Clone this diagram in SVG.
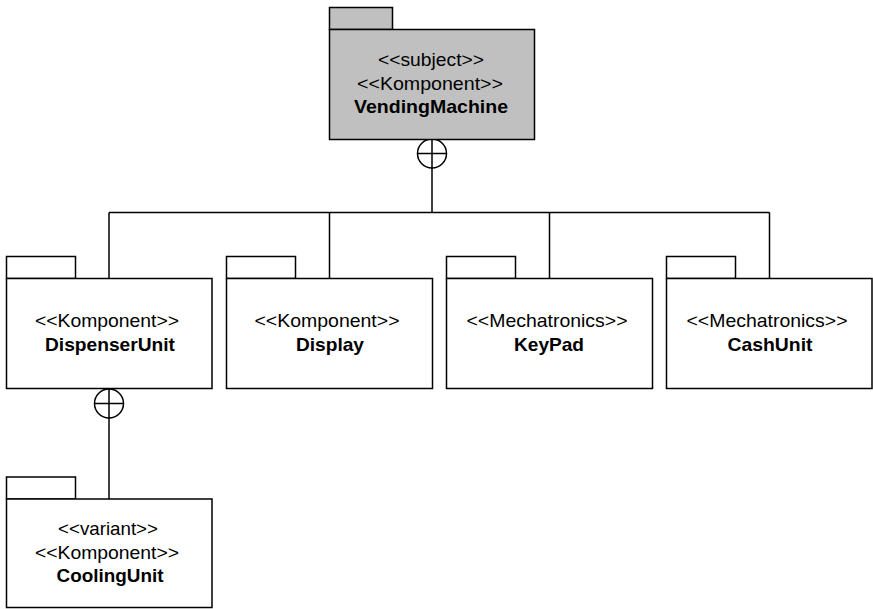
<svg xmlns="http://www.w3.org/2000/svg" width="873" height="609" viewBox="0 0 873 609">
  <style>
    .pkg { fill: #ffffff; stroke: #000000; stroke-width: 1.5; }
    .subj { fill: #c0c0c0; }
    .conn { fill: none; stroke: #000000; stroke-width: 1.5; }
    .nest { fill: #ffffff; stroke: #000000; stroke-width: 1.5; }
    text { font-family: "Liberation Sans", Arial, sans-serif; font-size: 18.5px; fill: #000000; text-anchor: middle; }
    .name { font-weight: bold; }
  </style>

  <!-- containment connectors -->
  <g id="connectors">
    <path class="conn" d="M432 168 V212.5 M109 212.5 H769.5 M109 212.5 V278.5 M329.5 212.5 V278.5 M549.5 212.5 V278.5 M769.5 212.5 V278.5"/>
    <circle class="nest" cx="432" cy="153.5" r="14.5"/>
    <path class="conn" d="M417.5 153.5 H446.5 M432 139 V168"/>
    <path class="conn" d="M109 418 V499"/>
    <circle class="nest" cx="109" cy="403.5" r="14.5"/>
    <path class="conn" d="M94.5 403.5 H123.5 M109 389 V418"/>
  </g>

  <g id="VendingMachine">
    <rect class="pkg subj" x="329.5" y="7.5" width="63" height="22"/>
    <rect class="pkg subj" x="329.5" y="29.5" width="205" height="110"/>
    <text x="431" y="66" textLength="106" lengthAdjust="spacingAndGlyphs">&lt;&lt;subject&gt;&gt;</text>
    <text x="430" y="90" textLength="146" lengthAdjust="spacingAndGlyphs">&lt;&lt;Komponent&gt;&gt;</text>
    <text class="name" x="431" y="113" textLength="154" lengthAdjust="spacingAndGlyphs">VendingMachine</text>
  </g>

  <g id="DispenserUnit">
    <rect class="pkg" x="6.5" y="256.5" width="69" height="22"/>
    <rect class="pkg" x="6.5" y="278.5" width="205.5" height="110"/>
    <text x="107" y="327" textLength="144" lengthAdjust="spacingAndGlyphs">&lt;&lt;Komponent&gt;&gt;</text>
    <text class="name" x="110" y="350.5" textLength="130" lengthAdjust="spacingAndGlyphs">DispenserUnit</text>
  </g>

  <g id="Display">
    <rect class="pkg" x="226.5" y="256.5" width="69" height="22"/>
    <rect class="pkg" x="226.5" y="278.5" width="206" height="110"/>
    <text x="327" y="327" textLength="145" lengthAdjust="spacingAndGlyphs">&lt;&lt;Komponent&gt;&gt;</text>
    <text class="name" x="330" y="350.5" textLength="68" lengthAdjust="spacingAndGlyphs">Display</text>
  </g>

  <g id="KeyPad">
    <rect class="pkg" x="446.5" y="256.5" width="69" height="22"/>
    <rect class="pkg" x="446.5" y="278.5" width="206" height="110"/>
    <text x="547" y="327" textLength="161" lengthAdjust="spacingAndGlyphs">&lt;&lt;Mechatronics&gt;&gt;</text>
    <text class="name" x="549" y="350.5" textLength="70" lengthAdjust="spacingAndGlyphs">KeyPad</text>
  </g>

  <g id="CashUnit">
    <rect class="pkg" x="666.5" y="256.5" width="69" height="22"/>
    <rect class="pkg" x="666.5" y="278.5" width="205.5" height="110"/>
    <text x="767" y="327" textLength="161" lengthAdjust="spacingAndGlyphs">&lt;&lt;Mechatronics&gt;&gt;</text>
    <text class="name" x="770" y="350.5" textLength="85" lengthAdjust="spacingAndGlyphs">CashUnit</text>
  </g>

  <g id="CoolingUnit">
    <rect class="pkg" x="6.5" y="477" width="69" height="22"/>
    <rect class="pkg" x="6.5" y="499" width="205.5" height="108.5"/>
    <text x="108" y="535" textLength="100" lengthAdjust="spacingAndGlyphs">&lt;&lt;variant&gt;&gt;</text>
    <text x="107" y="558.5" textLength="144" lengthAdjust="spacingAndGlyphs">&lt;&lt;Komponent&gt;&gt;</text>
    <text class="name" x="110" y="582" textLength="107" lengthAdjust="spacingAndGlyphs">CoolingUnit</text>
  </g>
</svg>
